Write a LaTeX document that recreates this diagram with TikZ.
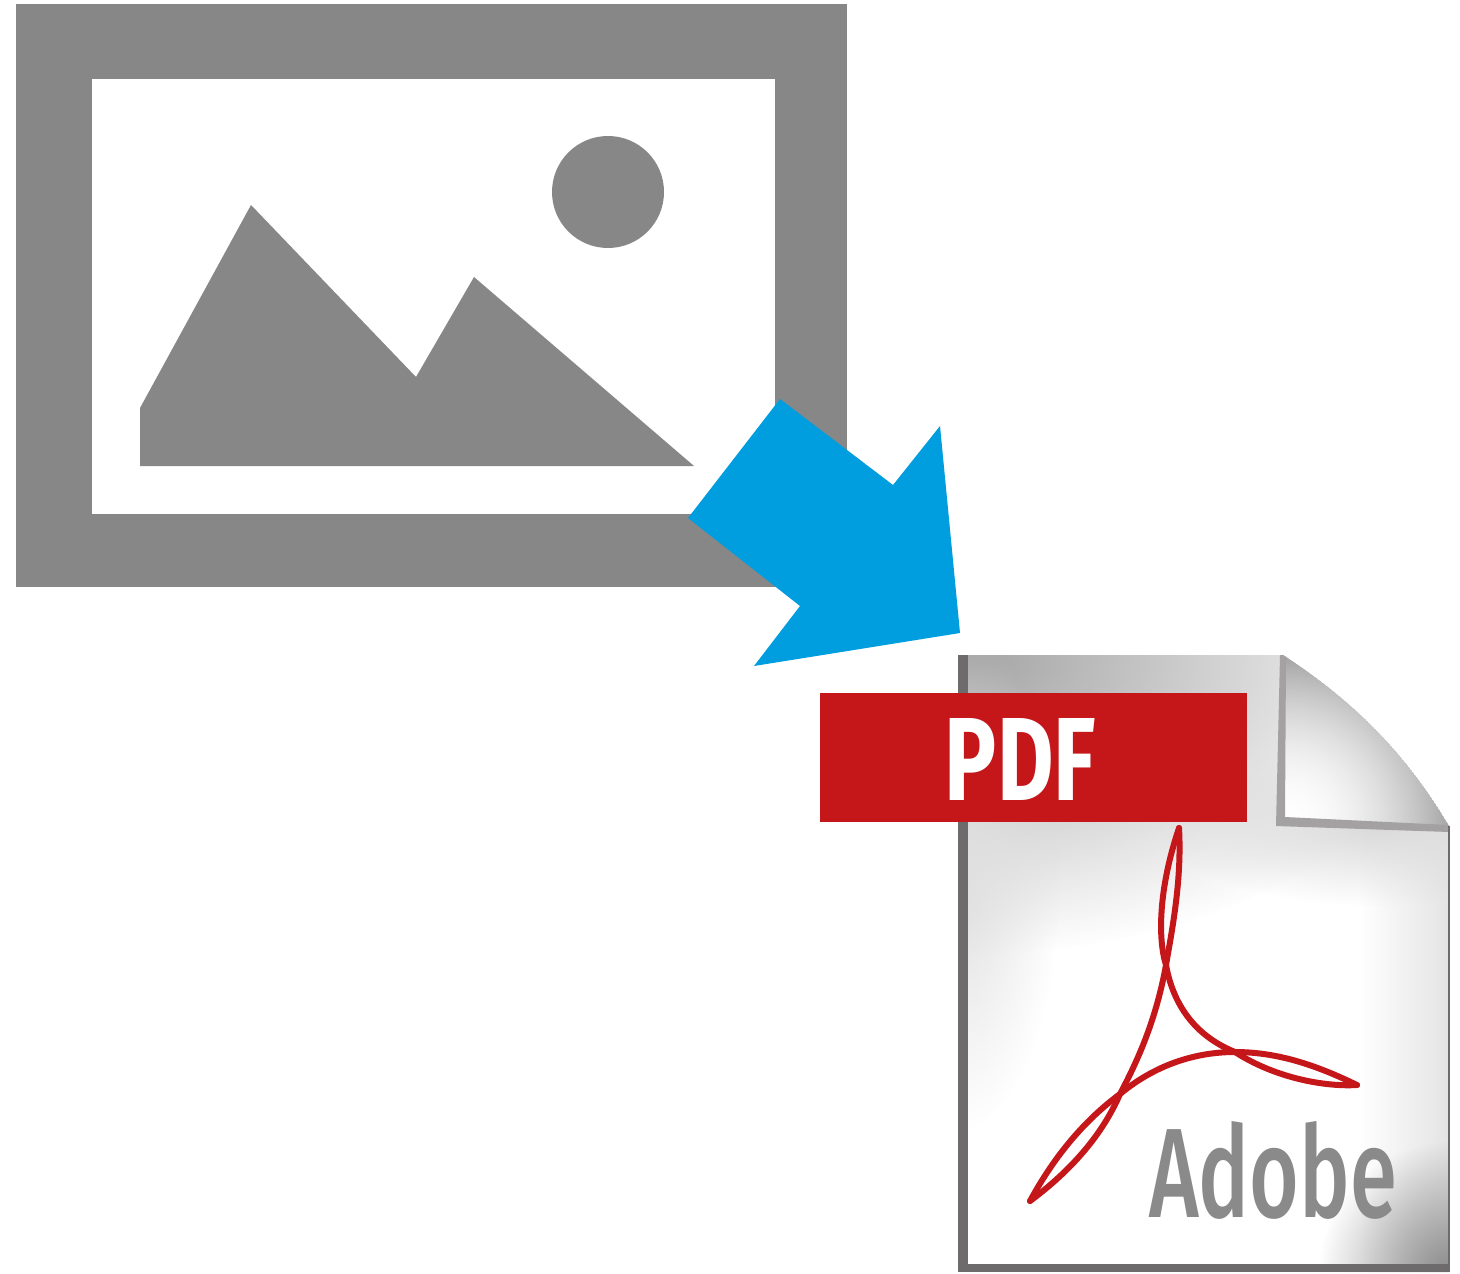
\documentclass[tikz,border=0pt]{standalone}
\usepackage{graphicx}
\usepackage{fontspec}
\setmainfont{Fira Sans}
\newfontfamily\adobefont{Fira Sans Medium}
\usetikzlibrary{fadings}
\definecolor{framegray}{HTML}{878787}
\definecolor{arrowblue}{HTML}{009DDF}
\definecolor{pdfred}{HTML}{C5161A}
\definecolor{edgegray}{HTML}{6D6B6B}
\definecolor{curledge}{HTML}{A3A1A1}
\definecolor{adobegray}{HTML}{8A8A8A}
\tikzfading[name=glowfade, inner color=transparent!0, outer color=transparent!100]
\tikzfading[name=fadeleft, left color=transparent!100, right color=transparent!0]
\tikzset{
  imagegray/.style={fill=framegray,draw=none},
  logostroke/.style={draw=pdfred,line width=3pt,line cap=round,line join=round},
  labeltext/.style={inner sep=0pt,outer sep=0pt}
}
\begin{document}
\begin{tikzpicture}[x=0.5pt,y=-0.5pt]
\useasboundingbox (0,0) rectangle (1460,1273);
\fill[white] (0,0) rectangle (1460,1273);
% image placeholder
\fill[imagegray] (16,4) rectangle (847,587);
\fill[white] (92,79) rectangle (775,514);
\fill[imagegray] (608,192) circle (56);
\fill[imagegray] (140,408) -- (251,205) -- (416,377) -- (474,277) -- (694,466) -- (140,466) -- cycle;
% blue arrow
\fill[arrowblue] (780,399) -- (893,485) -- (940,426) -- (960,633) -- (754,666) -- (800,606) -- (688,518) -- cycle;
% document page
\begin{scope}
\clip (959,655) -- (1283,655) .. controls (1360,705) and (1410,760) .. (1449,826) -- (1449,1272) -- (959,1272) -- cycle;
\fill[white] (950,650) rectangle (1455,1275);
\begin{scope}[y=0.5pt]
\fill[black!36,path fading=glowfade] (959,-655) ellipse [x radius=500, y radius=300];
\fill[black!12,path fading=glowfade] (959,-880) ellipse [x radius=100, y radius=250];
\fill[black!15,path fading=glowfade] (1380,-826) ellipse [x radius=220, y radius=80];
\fill[black!13,path fading=fadeleft] (1360,-820) rectangle (1470,-1272);
\fill[black!45,path fading=glowfade] (1449,-1272) circle (130);
\end{scope}
% curl
\fill[black!40] (1283,655) .. controls (1360,705) and (1410,760) .. (1449,826) -- (1280,826) -- cycle;
\begin{scope}
\clip (1283,655) .. controls (1360,705) and (1410,760) .. (1449,826) -- (1280,826) -- cycle;
\begin{scope}[y=0.5pt]
\fill[white,path fading=glowfade] (1285,-822) circle (175);
\fill[white,path fading=glowfade] (1285,-822) circle (175);
\end{scope}
\end{scope}
\fill[curledge] (1280,655) -- (1286,655) -- (1285,817) -- (1449,825) -- (1449,832) -- (1276,826) -- cycle;
\end{scope}
% page edges
\fill[edgegray] (958,655) rectangle (968,1272);
\fill[edgegray] (958,1264) rectangle (1450,1272);
\fill[edgegray] (1448,826) rectangle (1450,1272);
% PDF banner
\fill[pdfred] (820,693) rectangle (1247,822);
\node[labeltext,text=white,anchor=center] (pdf) at (1020.5,759) {\resizebox{75.5pt}{41pt}{\bfseries PDF}};
% Adobe logo
\draw[logostroke] (1179,828) .. controls (1158,890) and (1158,940) .. (1166,965)
  .. controls (1175,1015) and (1205,1040) .. (1235,1052)
  .. controls (1275,1078) and (1325,1087) .. (1357,1085);
\draw[logostroke] (1179,828) .. controls (1182,880) and (1172,930) .. (1166,965)
  .. controls (1156,1020) and (1138,1060) .. (1120,1094)
  .. controls (1100,1140) and (1065,1175) .. (1030,1201);
\draw[logostroke] (1030,1201) .. controls (1055,1155) and (1085,1120) .. (1120,1094)
  .. controls (1155,1065) and (1195,1052) .. (1235,1052)
  .. controls (1280,1052) and (1320,1067) .. (1357,1085);
\node[labeltext,text=adobegray,anchor=center] (adobe) at (1273,1170) {\resizebox{124pt}{48pt}{\adobefont Adobe}};
\end{tikzpicture}
\end{document}
